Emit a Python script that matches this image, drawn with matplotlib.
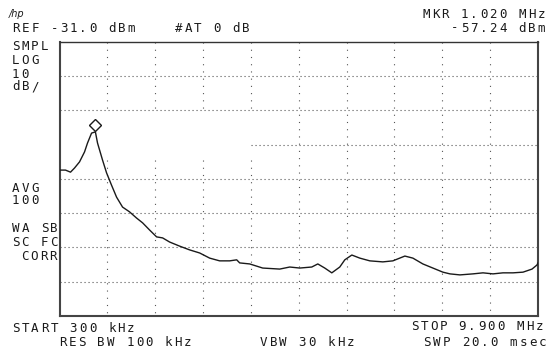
import numpy as np
import matplotlib.pyplot as plt
from matplotlib import transforms

# trace: frequency (MHz) and level (dBm)
freq_mhz = [0.300, 0.420, 0.521, 0.601, 0.702, 0.802, 0.862, 0.943, 1.020, 1.063,
            1.164, 1.244, 1.344, 1.445, 1.565, 1.706, 1.846, 1.967, 2.108, 2.248,
            2.369, 2.509, 2.710, 2.911, 3.112, 3.313, 3.513, 3.714, 3.855, 3.915,
            4.116, 4.377, 4.718, 4.919, 5.120, 5.361, 5.482, 5.622, 5.763, 5.923,
            6.024, 6.165, 6.325, 6.526, 6.787, 6.988, 7.229, 7.390, 7.590, 7.791,
            7.992, 8.133, 8.333, 8.595, 8.796, 8.997, 9.197, 9.398, 9.599, 9.780,
            9.880, 9.900]
level_dbm = [-68.4, -68.4, -69.0, -67.8, -66.0, -63.1, -60.5, -57.6, -57.24, -60.5,
             -65.5, -69.2, -72.8, -76.3, -79.2, -80.6, -82.4, -83.8, -85.9, -87.9,
             -88.2, -89.4, -90.6, -91.7, -92.6, -94.1, -94.9, -94.9, -94.6, -95.5,
             -95.8, -97.0, -97.3, -96.7, -97.0, -96.7, -95.8, -97.0, -98.4, -96.7,
             -94.6, -93.2, -94.1, -94.9, -95.2, -94.9, -93.5, -94.1, -95.8, -97.0,
             -98.2, -98.7, -99.0, -98.7, -98.4, -98.7, -98.4, -98.4, -98.2, -97.3,
             -96.1, -95.5]

ref_level = -31.0
db_per_div = 10
n_ydiv = 8
f_start, f_stop = 0.3, 9.9
n_xdiv = 10
marker_freq = 1.020
marker_level = -57.24

W, H = 547, 352
ink = '#1a1a1a'
dots = '#555555'

fig = plt.figure(figsize=(W / 100, H / 100), dpi=100)
fig.patch.set_facecolor('white')
ax = fig.add_axes([59.5 / W, 1 - 316 / H, (538 - 59.5) / W, (316 - 42) / H])
bottom = ref_level - db_per_div * n_ydiv
ax.set_xlim(f_start, f_stop)
ax.set_ylim(bottom, ref_level)
ax.set_xticks([])
ax.set_yticks([])
for side in ['left', 'bottom', 'right']:
    ax.spines[side].set_linewidth(1.5)
    ax.spines[side].set_color('#444444')
ax.spines['top'].set_linewidth(1.0)
ax.spines['top'].set_color('#333333')

# graticule, dotted like the analyser screen
xg = np.linspace(f_start, f_stop, n_xdiv + 1)[1:-1]
yg = ref_level - db_per_div * np.arange(1, n_ydiv)
for i, y in enumerate(yg):
    x0 = xg[3] if i == 2 else f_start   # 3rd line is missing on the left
    ax.plot([x0, f_stop], [y, y], color=dots, lw=0.8, ls=(0, (1, 2.6)), zorder=1)
for i, x in enumerate(xg):
    if i < 4:
        segs = [(ref_level, yg[1]), (-65.5, bottom)]
    else:
        segs = [(ref_level, bottom)]
    for a, b in segs:
        ax.plot([x, x], [a, b], color=dots, lw=0.8, ls=(0, (1, 5.5)), zorder=1)

ax.plot(freq_mhz, level_dbm, color=ink, lw=1.0, zorder=3)

# marker diamond sits just above the trace point
off = transforms.offset_copy(ax.transData, fig=fig, x=0, y=5, units='points')
ax.plot([marker_freq], [marker_level], marker='D', ms=6.5, mfc='white',
        mec=ink, mew=1.0, transform=off, zorder=4)

pitch = 9.6
glyph = 7.5


def screen_text(x, y, s, right=False):
    # fixed pitch characters, x = left (or right) edge, y = text centre, in pixels
    n = len(s)
    start = x - glyph - (n - 1) * pitch if right else x
    for i, ch in enumerate(s):
        if ch == ' ':
            continue
        fig.text((start + glyph / 2 + i * pitch) / W, 1 - (y + 4.5) / H, ch,
                 ha='center', va='baseline', fontsize=9,
                 family='DejaVu Sans Mono', color=ink)


fig.text(9 / W, 1 - 17 / H, '/hp', fontsize=7, style='italic', color=ink,
         family='DejaVu Sans')

screen_text(12, 28, 'REF -31.0 dBm')
screen_text(175, 28, '#AT 0 dB')
screen_text(545, 13, 'MKR 1.020 MHz', right=True)
screen_text(545, 27, '-57.24 dBm', right=True)

screen_text(12, 46, 'SMPL')
screen_text(12, 60, 'LOG')
screen_text(12, 73, '10')
screen_text(12, 86, 'dB/')
screen_text(12, 187, 'AVG')
screen_text(12, 200, '100')
screen_text(12, 227, 'WA SB')
screen_text(12, 241, 'SC FC')
screen_text(57, 255, 'CORR', right=True)

screen_text(12, 327, 'START 300 kHz')
screen_text(59, 341, 'RES BW 100 kHz')
screen_text(260, 341, 'VBW 30 kHz')
screen_text(543, 326, 'STOP 9.900 MHz', right=True)
screen_text(546, 341, 'SWP 20.0 msec', right=True)

fig.savefig('out.png', dpi=100)
